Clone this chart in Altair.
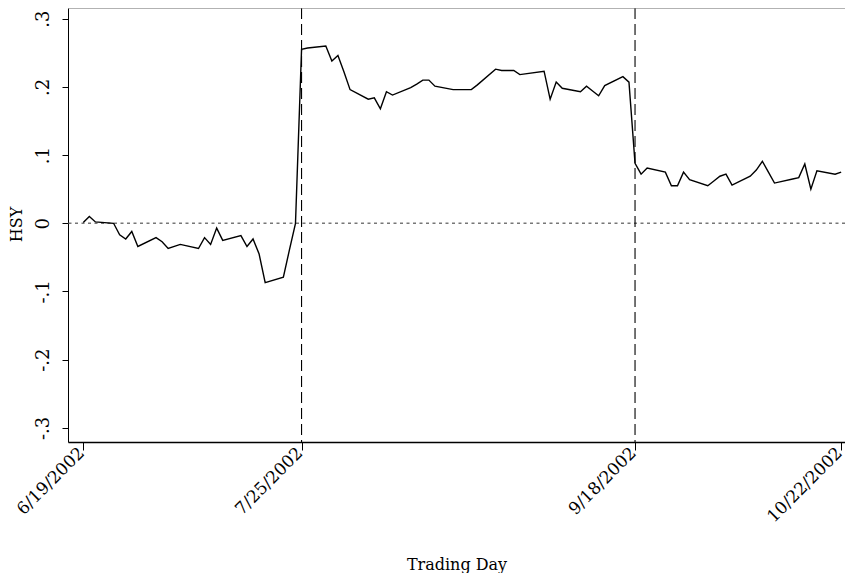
import altair as alt
import pandas as pd

# ---- data ----
dates = [
    "2002-06-19", "2002-06-20", "2002-06-21", "2002-06-24", "2002-06-25", "2002-06-26",
    "2002-06-27", "2002-06-28", "2002-07-01", "2002-07-02", "2002-07-03", "2002-07-05",
    "2002-07-08", "2002-07-09", "2002-07-10", "2002-07-11", "2002-07-12", "2002-07-15",
    "2002-07-16", "2002-07-17", "2002-07-18", "2002-07-19", "2002-07-22", "2002-07-23",
    "2002-07-24", "2002-07-25", "2002-07-26", "2002-07-29", "2002-07-30", "2002-07-31",
    "2002-08-01", "2002-08-02", "2002-08-05", "2002-08-06", "2002-08-07", "2002-08-08",
    "2002-08-09", "2002-08-12", "2002-08-13", "2002-08-14", "2002-08-15", "2002-08-16",
    "2002-08-19", "2002-08-20", "2002-08-21", "2002-08-22", "2002-08-23", "2002-08-26",
    "2002-08-27", "2002-08-28", "2002-08-29", "2002-08-30", "2002-09-03", "2002-09-04",
    "2002-09-05", "2002-09-06", "2002-09-09", "2002-09-10", "2002-09-11", "2002-09-12",
    "2002-09-13", "2002-09-16", "2002-09-17", "2002-09-18", "2002-09-19", "2002-09-20",
    "2002-09-23", "2002-09-24", "2002-09-25", "2002-09-26", "2002-09-27", "2002-09-30",
    "2002-10-01", "2002-10-02", "2002-10-03", "2002-10-04", "2002-10-07", "2002-10-08",
    "2002-10-09", "2002-10-10", "2002-10-11", "2002-10-14", "2002-10-15", "2002-10-16",
    "2002-10-17", "2002-10-18", "2002-10-21", "2002-10-22",
]
hsy = [
    0.001, 0.010, 0.002, 0.000, -0.017, -0.023,
    -0.012, -0.034, -0.021, -0.027, -0.037, -0.031,
    -0.037, -0.021, -0.031, -0.007, -0.025, -0.018,
    -0.034, -0.023, -0.045, -0.087, -0.079, -0.039,
    0.000, 0.255, 0.257, 0.260, 0.238, 0.246,
    0.222, 0.196, 0.182, 0.184, 0.168, 0.193,
    0.188, 0.199, 0.204, 0.210, 0.210, 0.201,
    0.196, 0.196, 0.196, 0.196, 0.203, 0.226,
    0.224, 0.224, 0.224, 0.218, 0.223, 0.182,
    0.207, 0.198, 0.193, 0.201, 0.194, 0.187,
    0.202, 0.215, 0.207, 0.088, 0.072, 0.081,
    0.075, 0.055, 0.055, 0.075, 0.064, 0.055,
    0.062, 0.069, 0.072, 0.056, 0.069, 0.078,
    0.091, 0.075, 0.059, 0.065, 0.067, 0.087,
    0.050, 0.077, 0.072, 0.075,
]
event_dates = ["2002-07-25", "2002-09-18"]
tick_dates = ["2002-06-19", "2002-07-25", "2002-09-18", "2002-10-22"]
tick_labels = ["6/19/2002", "7/25/2002", "9/18/2002", "10/22/2002"]
y_ticks = [-0.3, -0.2, -0.1, 0, 0.1, 0.2, 0.3]
y_labels = ["-.3", "-.2", "-.1", "0", ".1", ".2", ".3"]

base = pd.Timestamp(dates[0])


def offset(d):
    return (pd.Timestamp(d) - base).days


df = pd.DataFrame({"day": [offset(d) for d in dates], "hsy": hsy})
zero_df = pd.DataFrame({"hsy": [0.0]})
event_df = pd.DataFrame({"day": [offset(d) for d in event_dates]})

x_ticks = [offset(d) for d in tick_dates]
x_expr = " : ".join(f"datum.value == {v} ? '{l}'" for v, l in zip(x_ticks, tick_labels)) + " : ''"
y_expr = " : ".join(f"abs(datum.value - ({v})) < 1e-6 ? '{l}'" for v, l in zip(y_ticks, y_labels)) + " : ''"

FONT = "DejaVu Serif"
W, H = 777, 434

x_scale = alt.Scale(domain=[-2.52, 125.63], nice=False, zero=False)
y_scale = alt.Scale(domain=[-0.3207, 0.3157], nice=False, zero=False)

x_axis = alt.Axis(
    values=x_ticks, labelExpr=x_expr, labelAngle=315, labelAlign="right",
    labelBaseline="middle", labelFontSize=17, labelFont=FONT, labelColor="black",
    labelPadding=0, labelOffset=-2, tickSize=8, tickColor="black", domainColor="black",
    domainWidth=1.3, grid=False, title="Trading Day", titleFont=FONT,
    titleFontSize=16, titleFontWeight="normal", titleColor="black",
    titleBaseline="alphabetic", titleY=127, labelOverlap=False, labelFlush=False,
)
y_axis = alt.Axis(
    values=y_ticks, labelExpr=y_expr, labelAngle=270, labelAlign="center",
    labelBaseline="bottom", labelFontSize=18, labelFont=FONT, labelColor="black",
    labelPadding=10, tickSize=6, tickColor="black", domainColor="black",
    domainWidth=1.0, grid=False, title="HSY", titleFont=FONT, titleFontSize=16,
    titleFontWeight="normal", titleColor="black", titleAngle=270,
    titleAlign="center", titleBaseline="middle", titleX=-52, titleY=216,
    labelOverlap=False, labelFlush=False,
)

x_enc = alt.X("day:Q", scale=x_scale, axis=x_axis)
y_enc = alt.Y("hsy:Q", scale=y_scale, axis=y_axis)

line = alt.Chart(df).mark_line(color="black", strokeWidth=1.4).encode(x=x_enc, y=y_enc)

zero = alt.Chart(zero_df).mark_rule(
    color="#777777", strokeWidth=1.4, strokeDash=[3, 3.5]
).encode(y=y_enc)

events = alt.Chart(event_df).mark_rule(
    color="black", strokeWidth=1.1, strokeDash=[11, 5]
).encode(x=x_enc)

top_border = alt.Chart(zero_df).mark_rule(color="#888888", strokeWidth=1).encode(
    x=alt.value(0), x2=alt.value(W), y=alt.value(0)
)

chart = alt.layer(zero, events, top_border, line).properties(
    width=W, height=H,
    autosize=alt.AutoSizeParams(type="none"),
    padding={"left": 60, "top": 0, "right": 0, "bottom": 131},
).configure_view(stroke=None).configure(background="white")

chart.save("out.html", embed_options={"renderer": "svg", "actions": False})
